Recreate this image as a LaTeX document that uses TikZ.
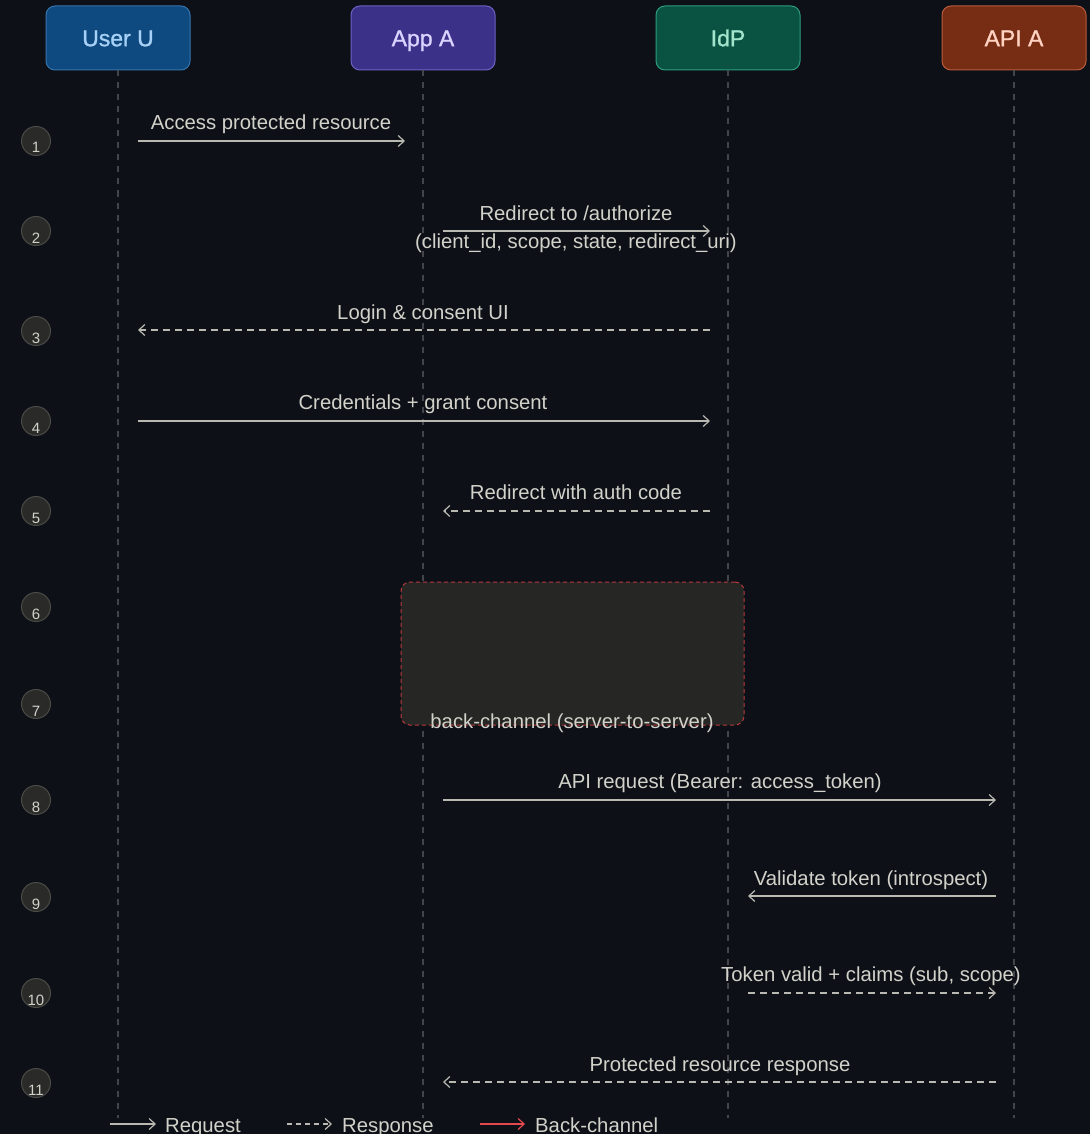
\documentclass[tikz,border=0pt]{standalone}
\usepackage{fontspec}
\setmainfont{Liberation Sans}
\newfontfamily\headfont{Liberation Sans}[FakeBold=1.1]
\usetikzlibrary{arrows.meta}

\definecolor{bg}{HTML}{0D1117}
\definecolor{ink}{HTML}{D2D2CA}
\definecolor{wire}{HTML}{B9B9B1}
\definecolor{life}{HTML}{42464B}
\definecolor{dotfill}{HTML}{2A2A28}
\definecolor{dotline}{HTML}{4A4A46}
\definecolor{bcfill}{HTML}{262624}
\definecolor{bcline}{HTML}{B8383C}
\definecolor{legred}{HTML}{E5484D}
\definecolor{ufill}{HTML}{0E4A7F}\definecolor{uline}{HTML}{3574AC}\definecolor{utext}{HTML}{A6D0F5}
\definecolor{afill}{HTML}{3B3189}\definecolor{aline}{HTML}{6C62C4}\definecolor{atext}{HTML}{D8D4FF}
\definecolor{ifill}{HTML}{0A5343}\definecolor{iline}{HTML}{2C9C7E}\definecolor{itext}{HTML}{A2E4CC}
\definecolor{pfill}{HTML}{772D13}\definecolor{pline}{HTML}{B65C3C}\definecolor{ptext}{HTML}{FFD2C2}

\tikzset{
  actor/.style={draw, line width=1pt, rounded corners=9pt, minimum width=144pt,
    minimum height=64pt, text height=16.5pt, text depth=0pt,
    font=\headfont\fontsize{23}{26}\selectfont},
  lifeline/.style={draw=life, line width=1.2pt, dash pattern=on 6pt off 6pt},
  msg/.style={draw=wire, line width=1.3pt, -{Straight Barb[length=6pt,width=11pt,line width=1.2pt]}},
  reply/.style={msg, dash pattern=on 7pt off 5pt},
  msglabel/.style={text=ink, anchor=base, font=\fontsize{20.3}{23}\selectfont, inner sep=0pt},
  stepdot/.style={circle, fill=dotfill, draw=dotline, line width=1pt, minimum size=29pt, inner sep=0pt},
  stepnum/.style={text=ink, anchor=base, font=\fontsize{15}{17}\selectfont, inner sep=0pt},
}

\begin{document}
\begin{tikzpicture}[x=1pt,y=-1pt]
  \fill[bg] (0,0) rectangle (1090,1134);
  \useasboundingbox (0,0) rectangle (1090,1134);

  % participants
  \node[actor, fill=ufill, draw=uline, text=utext] (u) at (118,38) {User U};
  \node[actor, fill=afill, draw=aline, text=atext] (a) at (423,38) {App A};
  \node[actor, fill=ifill, draw=iline, text=itext] (i) at (728,38) {IdP};
  \node[actor, fill=pfill, draw=pline, text=ptext] (p) at (1014,38) {API A};

  % lifelines
  \coordinate (uend) at (118,1118);
  \coordinate (aend) at (423,1118);
  \coordinate (iend) at (728,1118);
  \coordinate (pend) at (1014,1118);
  \draw[lifeline] (u.south) -- (uend);
  \draw[lifeline] (a.south) -- (aend);
  \draw[lifeline] (i.south) -- (iend);
  \draw[lifeline] (p.south) -- (pend);

  % back-channel region
  \node[draw=bcline, fill=bcfill, line width=1pt, dash pattern=on 4pt off 3pt,
        rounded corners=9pt, minimum width=343pt, minimum height=143pt, inner sep=0pt]
        (bc) at (572.5,653.5) {};
  \node[msglabel] (bclabel) at (572,728) {back-channel (server-to-server)};

  % step markers
  \foreach \n/\yy in {1/141,2/231,3/331,4/421,5/511,6/607,7/704,8/800,9/897,10/993,11/1083}{
    \node[stepdot] (s\n) at (36,\yy) {};
    \node[stepnum] (t\n) at (36,\yy+12) {\n};
  }

  % message end points on the lifelines
  \coordinate (m1a) at (138,141);  \coordinate (m1b) at (405,141);
  \coordinate (m2a) at (443,231);  \coordinate (m2b) at (710,231);
  \coordinate (m3a) at (710,330);  \coordinate (m3b) at (138,330);
  \coordinate (m4a) at (138,421);  \coordinate (m4b) at (710,421);
  \coordinate (m5a) at (710,511);  \coordinate (m5b) at (443,511);
  \coordinate (m8a) at (443,800);  \coordinate (m8b) at (996,800);
  \coordinate (m9a) at (996,896);  \coordinate (m9b) at (748,896);
  \coordinate (m10a) at (748,993); \coordinate (m10b) at (996,993);
  \coordinate (m11a) at (996,1082);\coordinate (m11b) at (443,1082);

  % messages
  \draw[msg]   (m1a) -- (m1b);
  \node[msglabel] (l1) at (271,130) {Access protected resource};

  \draw[msg]   (m2a) -- (m2b);
  \node[msglabel] (l2) at (576,220) {Redirect to /authorize};
  \node[msglabel] (l2b) at (576,248) {(client\_id, scope, state, redirect\_uri)};

  \draw[reply] (m3a) -- (m3b);
  \node[msglabel] (l3) at (423,319) {Login \& consent UI};

  \draw[msg]   (m4a) -- (m4b);
  \node[msglabel] (l4) at (423,409) {Credentials + grant consent};

  \draw[reply] (m5a) -- (m5b);
  \node[msglabel] (l5) at (576,499) {Redirect with auth code};

  \draw[msg]   (m8a) -- (m8b);
  \node[msglabel] (l8) at (720,788) {API request (Bearer: access\_token)};

  \draw[msg]   (m9a) -- (m9b);
  \node[msglabel] (l9) at (871,885) {Validate token (introspect)};

  \draw[reply] (m10a) -- (m10b);
  \node[msglabel] (l10) at (871,981) {Token valid + claims (sub, scope)};

  \draw[reply] (m11a) -- (m11b);
  \node[msglabel] (l11) at (720,1071) {Protected resource response};

  % legend
  \coordinate (k1a) at (110,1124); \coordinate (k1b) at (156,1124);
  \coordinate (k2a) at (287,1124); \coordinate (k2b) at (332,1124);
  \coordinate (k3a) at (480,1124); \coordinate (k3b) at (525,1124);
  \draw[msg] (k1a) -- (k1b);
  \node[msglabel, anchor=base west] (k1) at (165,1132) {Request};
  \draw[reply, dash pattern=on 5pt off 4pt] (k2a) -- (k2b);
  \node[msglabel, anchor=base west] (k2) at (342,1132) {Response};
  \draw[msg, draw=legred, line width=1.8pt] (k3a) -- (k3b);
  \node[msglabel, anchor=base west] (k3) at (535,1132) {Back-channel};
\end{tikzpicture}
\end{document}
